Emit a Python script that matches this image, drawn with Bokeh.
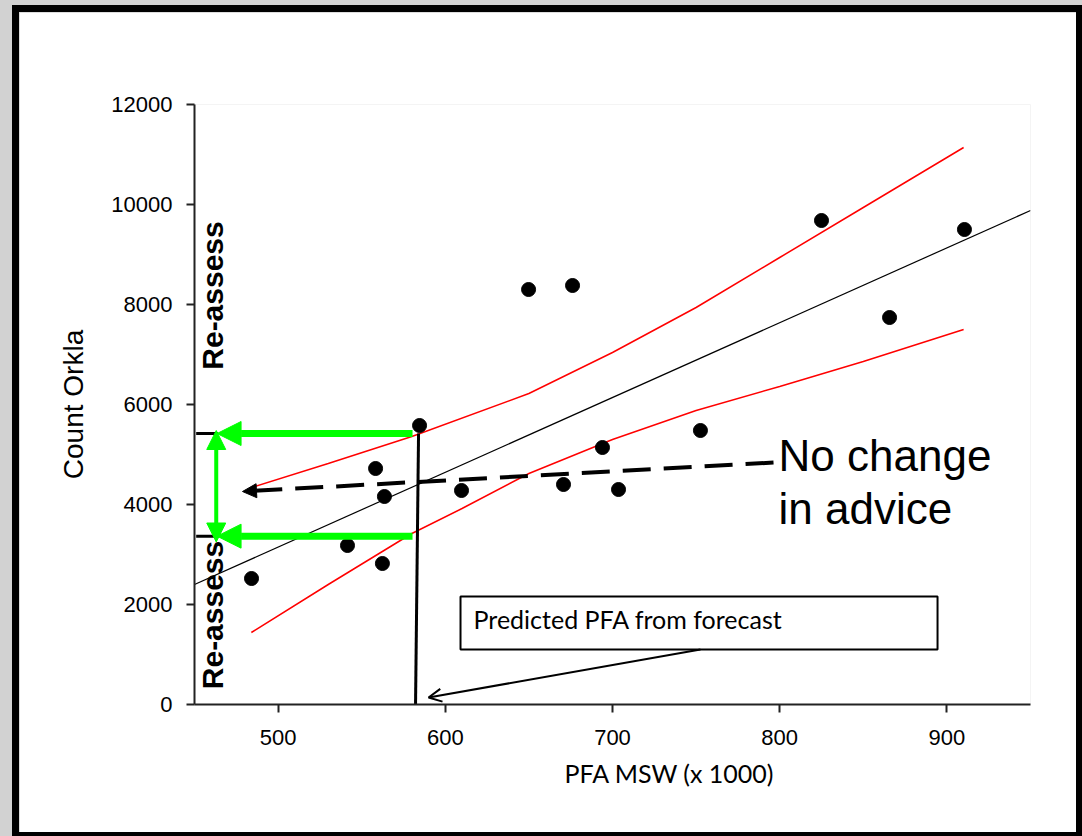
import math
from bokeh.plotting import figure
from bokeh.models import (Range1d, FixedTicker, Arrow, NormalHead, OpenHead,
                          Title, BoxAnnotation)
from bokeh.layouts import column
from bokeh.core.properties import value
from bokeh.embed import file_html
from bokeh.resources import INLINE

# ---- data ----
pfa = [484.1, 541.5, 562.4, 558.3, 563.6, 584.6, 609.7, 649.8, 676.1, 670.7,
       694.0, 703.6, 752.6, 825.0, 865.7, 910.5]
count = [2520, 3180, 2820, 4720, 4160, 5580, 4280, 8300, 8380, 4400,
         5140, 4300, 5480, 9680, 7740, 9500]

fit_x = [450, 950]
fit_y = [2400, 9880]

upper_x = [484, 530, 580, 650, 700, 750, 800, 850, 910]
upper_y = [4340, 4820, 5360, 6220, 7040, 7940, 8940, 9940, 11140]

lower_x = [484, 530, 580, 610, 650, 700, 750, 800, 850, 910]
lower_y = [1440, 2400, 3420, 3920, 4620, 5300, 5880, 6360, 6860, 7500]

x_ticks = [500, 600, 700, 800, 900]
y_ticks = [0, 2000, 4000, 6000, 8000, 10000, 12000]

# predicted PFA from forecast and its band
pred_x = [582.2, 584.0]
pred_y = [0, 5420]
band_hi = 5420
band_lo = 3367

FONT = "Liberation Sans"

p = figure(width=1070, height=831, output_backend="svg", toolbar_location=None,
           x_range=Range1d(450, 950), y_range=Range1d(0, 12000),
           min_border_left=175, min_border_right=59, min_border_top=92,
           min_border_bottom=139)
p.outline_line_color = None
p.xgrid.visible = False
p.ygrid.visible = False
p.background_fill_color = "white"
p.border_fill_color = "white"

for ax in (p.xaxis[0], p.yaxis[0]):
    ax.axis_line_color = "#222222"
    ax.axis_line_width = 2
    ax.major_tick_line_color = "#222222"
    ax.major_tick_line_width = 2
    ax.major_tick_in = 0
    ax.major_tick_out = 8
    ax.minor_tick_line_color = None
    ax.major_label_text_font = FONT
    ax.major_label_text_font_size = "22px"
    ax.major_label_text_color = "black"

p.xaxis.ticker = FixedTicker(ticks=x_ticks)
p.yaxis.ticker = FixedTicker(ticks=y_ticks)
p.xaxis.major_label_standoff = 17
p.yaxis.major_label_standoff = 14
p.yaxis.axis_label = "Count Orkla"
p.yaxis.axis_label_text_font = FONT
p.yaxis.axis_label_text_font_style = "normal"
p.yaxis.axis_label_text_font_size = "28px"
p.yaxis.axis_label_text_color = "black"
p.yaxis.axis_label_standoff = 19

p.add_layout(Title(text="PFA MSW (x 1000)", text_font="Lato",
                   text_font_size="25px", text_font_style="normal",
                   text_color="black", align="left", offset=370,
                   standoff=17), "below")

# confidence band and regression
p.line(upper_x, upper_y, line_color="red", line_width=1.5)
p.line(lower_x, lower_y, line_color="red", line_width=1.5)
p.line(fit_x, fit_y, line_color="black", line_width=1.2)

# observations
p.scatter(pfa, count, size=14, color="black")

# predicted PFA vertical line
p.line(pred_x, pred_y, line_color="black", line_width=3)

# small black marks at the axis
p.segment(x0=[451, 451], y0=[band_hi, band_lo], x1=[464, 464], y1=[band_hi, band_lo],
          line_color="black", line_width=3)

# "Re-assess" labels
p.text(x=[460.8, 460.8], y=[8180, 1790], text=["Re-assess", "Re-assess"],
       angle=math.pi / 2, text_font=value(FONT), text_font_style="bold",
       text_font_size="30px", text_align="center", text_baseline="middle",
       text_color="black")

# green arrows
GREEN = "#00ff00"
for yv in (band_hi, band_lo):
    p.add_layout(Arrow(end=NormalHead(size=24, fill_color=GREEN, line_color=GREEN),
                       x_start=580.4, y_start=yv, x_end=463.5, y_end=yv,
                       line_color=GREEN, line_width=7))
p.add_layout(Arrow(start=NormalHead(size=19, fill_color=GREEN, line_color=GREEN),
                   end=NormalHead(size=19, fill_color=GREEN, line_color=GREEN),
                   x_start=463, y_start=5480, x_end=463, y_end=3250,
                   line_color=GREEN, line_width=4))

# dashed "no change" arrow
p.add_layout(Arrow(end=NormalHead(size=14, fill_color="black", line_color="black"),
                   x_start=796.3, y_start=4840, x_end=478.7, y_end=4260,
                   line_color="black", line_width=4, line_dash="28 13"))
p.text(x=[799.3, 799.3], y=[4980, 3920], text=["No change", "in advice"],
       text_font=value(FONT), text_font_size="44px", text_align="left",
       text_baseline="alphabetic", text_color="black")

# forecast box with arrow
p.add_layout(BoxAnnotation(left=609.1, right=894.4, bottom=1100, top=2160,
                           fill_color="white", fill_alpha=1.0,
                           line_color="black", line_width=2, line_alpha=1.0))
p.add_layout(Arrow(end=OpenHead(size=13, line_width=2, line_color="black"),
                   x_start=752.6, y_start=1100, x_end=590, y_end=140,
                   line_color="black", line_width=2))
p.text(x=[616.9], y=[1720], text=["Predicted PFA from forecast"],
       text_font=value("Lato"), text_font_size="25px",
       text_baseline="middle", text_align="left", text_color="black",
       level="overlay")

p.styles = {"border-style": "solid", "border-color": "black",
            "border-width": "7px 6px 4px 7px", "overflow": "hidden"}
page = column(p, styles={"background-color": "#d2d2d2",
                         "padding": "5px 0px 0px 12px"})

open("out.html", "w").write(file_html(page, INLINE))
